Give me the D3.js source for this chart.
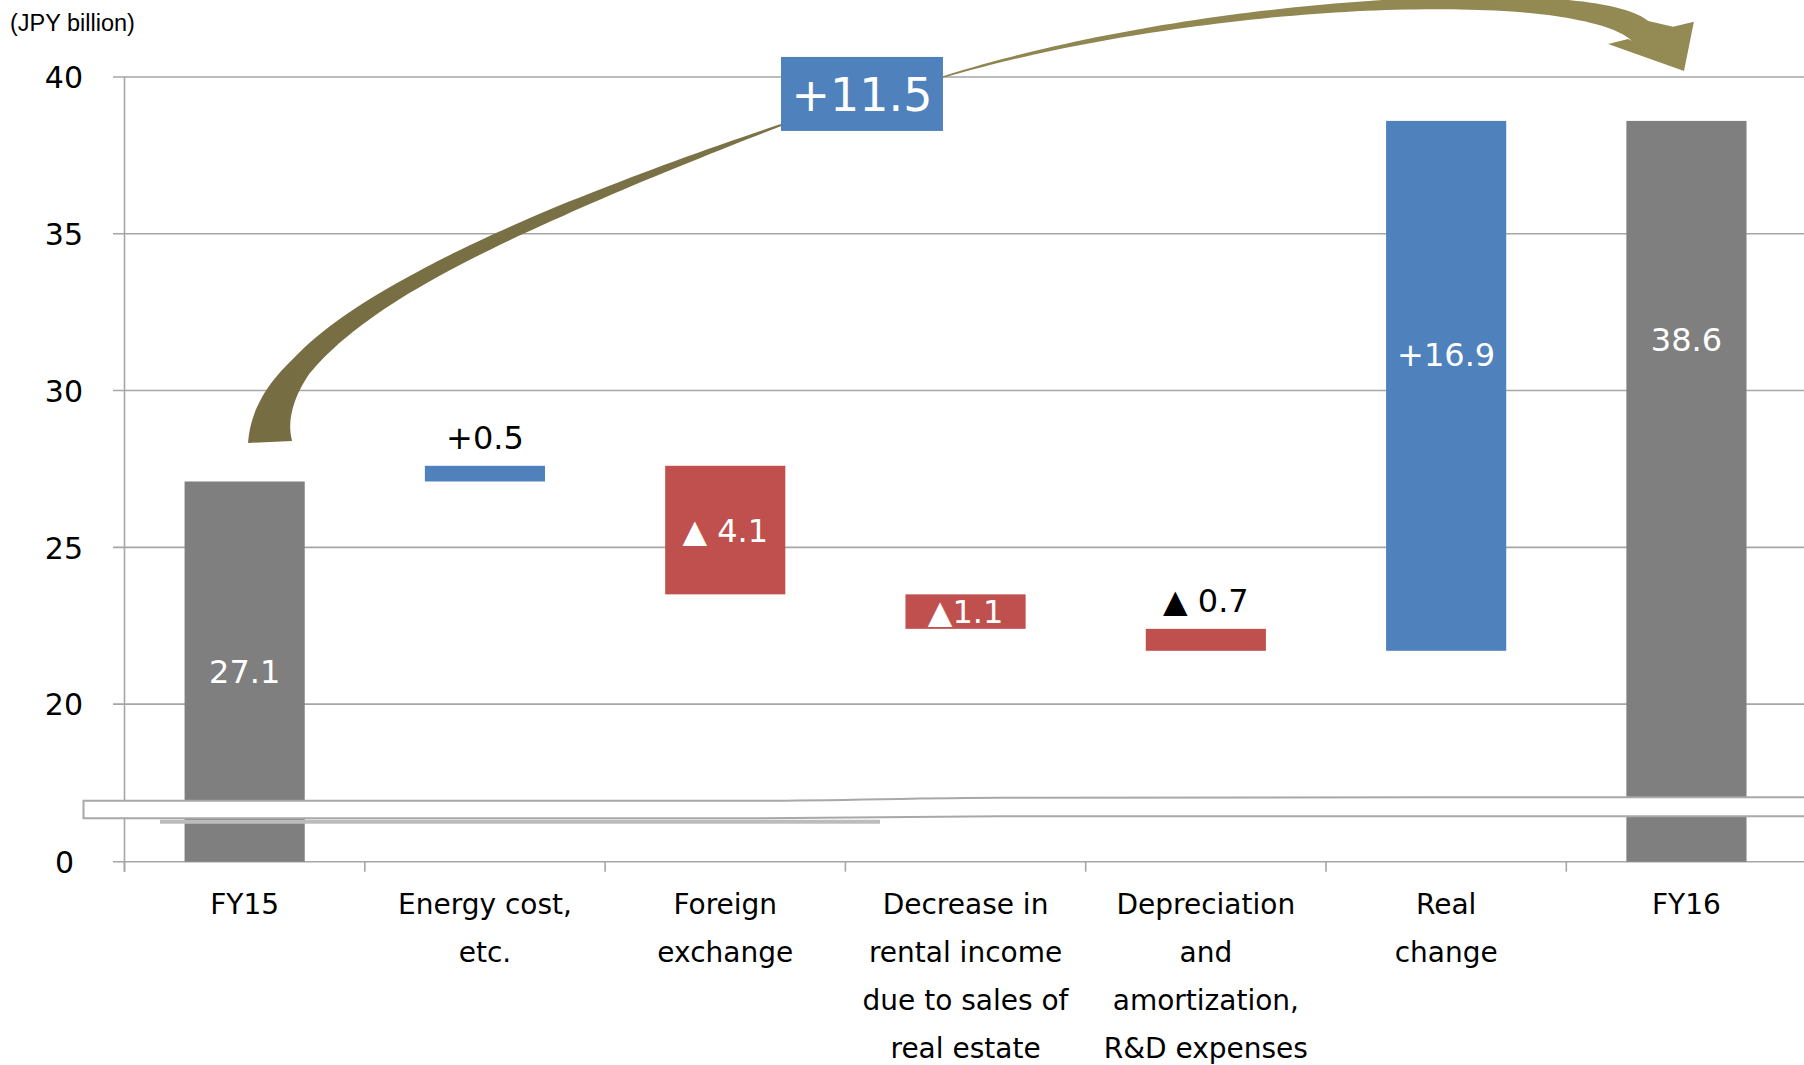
<!DOCTYPE html>
<html>
<head>
<meta charset="utf-8">
<script src="https://cdn.jsdelivr.net/npm/d3@7"></script>
<style>
  html, body { margin: 0; padding: 0; background: #ffffff; }
  svg { display: block; }
</style>
</head>
<body>
<svg id="chart" width="1804" height="1065"></svg>
<script>
// ---- data -------------------------------------------------------------
const categories = [
  "FY15",
  "Energy cost, etc.",
  "Foreign exchange",
  "Decrease in rental income due to sales of real estate",
  "Depreciation and amortization, R&D expenses",
  "Real change",
  "FY16"
];
const categoryLines = [
  ["FY15"],
  ["Energy cost,", "etc."],
  ["Foreign", "exchange"],
  ["Decrease in", "rental income", "due to sales of", "real estate"],
  ["Depreciation", "and", "amortization,", "R&D expenses"],
  ["Real", "change"],
  ["FY16"]
];
const stepKinds  = ["total", "delta", "delta", "delta", "delta", "delta", "total"];
const stepValues = [27.1, 0.5, -4.1, -1.1, -0.7, 16.9, 38.6];
const yTicks = [0, 20, 25, 30, 35, 40];
const unitLabel = "(JPY billion)";

// ---- layout -----------------------------------------------------------
const W = 1804, H = 1065;
const FONT = "'DejaVu Sans', Verdana, sans-serif";
const COLORS = { total: "#7f7f7f", up: "#4f81bd", down: "#c0504d", grid: "#a6a6a6" };

const svg = d3.select("#chart");

// the axis is broken between 0 and 20, so that span is compressed
const y = d3.scaleLinear().domain([0, 20, 40]).range([861.7, 704.1, 77]);
const x = d3.scaleBand().domain(categories)
  .range([124.5, 1806.6]).paddingInner(0.5).paddingOuter(0.25);
const xSlot = d3.scaleLinear().domain([0, categories.length]).range(x.range());
const axisX = x.range()[0];

// waterfall steps
let running = 0;
const steps = categories.map((c, i) => {
  const v = stepValues[i];
  let lo, hi;
  if (stepKinds[i] === "total") { lo = 0; hi = v; running = v; }
  else {
    const start = running;
    running = +(running + v).toFixed(4);
    lo = Math.min(start, running); hi = Math.max(start, running);
  }
  return { c, i, v, kind: stepKinds[i], lo, hi };
});
const fill = d => d.kind === "total" ? COLORS.total : (d.v >= 0 ? COLORS.up : COLORS.down);

// ---- gridlines & axes -------------------------------------------------
svg.append("g").selectAll("line").data(yTicks).join("line")
  .attr("x1", axisX - 11.5).attr("x2", W)
  .attr("y1", d => y(d)).attr("y2", d => y(d))
  .attr("stroke", COLORS.grid).attr("stroke-width", 1.6);

svg.append("line")
  .attr("x1", axisX).attr("x2", axisX)
  .attr("y1", y(40)).attr("y2", y(0) + 10)
  .attr("stroke", COLORS.grid).attr("stroke-width", 1.6);

svg.append("g").selectAll("line").data(d3.range(categories.length + 1)).join("line")
  .attr("x1", d => xSlot(d)).attr("x2", d => xSlot(d))
  .attr("y1", y(0)).attr("y2", y(0) + 10)
  .attr("stroke", COLORS.grid).attr("stroke-width", 1.6);

const yAxis = svg.append("g")
  .attr("transform", `translate(${axisX},0)`)
  .call(d3.axisLeft(y).tickValues(yTicks).tickSize(0).tickPadding(41.5).tickFormat(d3.format("d")));
yAxis.select(".domain").remove();
yAxis.selectAll("text")
  .attr("font-family", FONT).attr("font-size", 30).attr("fill", "#000")
  .attr("dy", "0.36em")
  .attr("dx", d => d === 0 ? -9 : 0);

svg.append("text")
  .attr("x", 10).attr("y", 31)
  .attr("font-family", "'Liberation Sans', Arial, sans-serif")
  .attr("font-size", 23.5).attr("fill", "#000")
  .text(unitLabel);

// ---- bars -------------------------------------------------------------
svg.append("g").selectAll("rect").data(steps).join("rect")
  .attr("x", d => x(d.c))
  .attr("width", x.bandwidth())
  .attr("y", d => y(d.hi))
  .attr("height", d => y(d.lo) - y(d.hi))
  .attr("fill", fill);

// ---- axis break band ---------------------------------------------------
const y0 = y(0);
const bandTop = [[axisX - 41, y0 - 61], [760, y0 - 61], [1000, y0 - 64], [W + 2, y0 - 64.5]];
const bandBot = [[W + 2, y0 - 45.5], [1000, y0 - 45.5], [760, y0 - 43.5], [axisX - 41, y0 - 43.5]];
const bandLine = d3.line().curve(d3.curveMonotoneX);
svg.append("path")
  .attr("d", d3.line()([[160, y0 - 40], [880, y0 - 40]]))
  .attr("stroke", "#bcbcbc").attr("stroke-width", 4).attr("fill", "none");
svg.append("path")
  .attr("d", bandLine(bandTop) + "L" + bandLine(bandBot).slice(1) + "Z")
  .attr("fill", "#ffffff")
  .attr("stroke", "#a8a8a8").attr("stroke-width", 2);

// ---- value labels -----------------------------------------------------
const fmt = d3.format(".1f");
const labelAt = ["mid", "above", "mid", "mid", "above", { top: 234 }, { top: 219 }];
const labelText = d => {
  if (d.kind === "total") return fmt(d.v);
  if (d.v >= 0) return "+" + fmt(d.v);
  const tight = labelAt[d.i] === "mid" && (y(d.lo) - y(d.hi)) < 40;
  return "\u25B2" + (tight ? "" : " ") + fmt(-d.v);
};
const labelY = d => {
  const p = labelAt[d.i];
  if (p === "mid") return (y(d.lo) + y(d.hi)) / 2;
  if (p === "above") return y(d.hi) - 28;
  return y(d.hi) + p.top;
};
svg.append("g").selectAll("text").data(steps).join("text")
  .attr("x", d => x(d.c) + x.bandwidth() / 2)
  .attr("y", labelY)
  .attr("dy", "0.36em")
  .attr("text-anchor", "middle")
  .attr("font-family", FONT).attr("font-size", 32)
  .attr("fill", d => labelAt[d.i] === "above" ? "#000" : "#fff")
  .text(labelText);

// ---- category labels --------------------------------------------------
const catG = svg.append("g").selectAll("text").data(steps).join("text")
  .attr("text-anchor", "middle")
  .attr("font-family", FONT).attr("font-size", 28).attr("fill", "#000");
catG.selectAll("tspan").data(d => categoryLines[d.i].map(t => ({ t, cx: x(d.c) + x.bandwidth() / 2 })))
  .join("tspan")
  .attr("x", d => d.cx)
  .attr("y", (d, j) => y0 + 52 + j * 48)
  .text(d => d.t);

// ---- curved arrow from FY15 to FY16 -----------------------------------
// control points in (category slot, axis value) space
const P = ([s, v]) => [xSlot(s), y(v)];
function bez(p, t) {
  const u = 1 - t;
  return [
    u*u*u*p[0][0] + 3*u*u*t*p[1][0] + 3*u*t*t*p[2][0] + t*t*t*p[3][0],
    u*u*u*p[0][1] + 3*u*u*t*p[1][1] + 3*u*t*t*p[2][1] + t*t*t*p[3][1]
  ];
}
function bezD(p, t) {
  const u = 1 - t;
  return [
    3*u*u*(p[1][0]-p[0][0]) + 6*u*t*(p[2][0]-p[1][0]) + 3*t*t*(p[3][0]-p[2][0]),
    3*u*u*(p[1][1]-p[0][1]) + 6*u*t*(p[2][1]-p[1][1]) + 3*t*t*(p[3][1]-p[2][1])
  ];
}
function taper(ctrl, width, n = 80) {
  const a = [], b = [];
  for (let k = 0; k <= n; k++) {
    const t = k / n, c = bez(ctrl, t), d = bezD(ctrl, t);
    const len = Math.hypot(d[0], d[1]);
    const nx = -d[1] / len, ny = d[0] / len, w = width(t);
    a.push([c[0] + nx * w, c[1] + ny * w]);
    b.push([c[0] - nx * w, c[1] - ny * w]);
  }
  return { a, b };
}

const leftCtrl = [[0.6055, 28.36], [0.585, 31.61], [1.3546, 34.64], [2.732, 38.47]].map(P);
const rightCtrl = [[3.406, 40.0], [4.476, 42.5], [6.057, 43.05], [6.307, 41.47]].map(P);
const head = [[6.444, 41.60], [6.531, 41.76], [6.490, 40.19], [6.174, 41.05], [6.257, 41.21]].map(P);

const grad = svg.append("defs").append("linearGradient")
  .attr("id", "arrowFill").attr("gradientUnits", "userSpaceOnUse")
  .attr("x1", 250).attr("y1", 0).attr("x2", 1700).attr("y2", 0);
grad.selectAll("stop").data([
  [0, "#766d42"], [0.37, "#7b7347"], [0.47, "#8e8550"], [1, "#948a54"]
]).join("stop").attr("offset", d => d[0]).attr("stop-color", d => d[1]);

const leftShaft = taper(leftCtrl, d3.scaleLinear().domain([0, 0.25, 0.5, 0.75, 0.9, 1]).range([22, 11, 7.5, 5.5, 3.2, 1]));
const rightShaft = taper(rightCtrl, d3.scaleLinear().domain([0, 0.25, 0.5, 0.75, 1]).range([0.8, 2.8, 4.8, 8, 13]));

const poly = pts => "M" + pts.map(p => p[0].toFixed(1) + "," + p[1].toFixed(1)).join("L") + "Z";
svg.append("path")
  .attr("d", poly(leftShaft.a.concat(leftShaft.b.slice().reverse())))
  .attr("fill", "url(#arrowFill)");
svg.append("path")
  .attr("d", poly(rightShaft.b.concat(head, rightShaft.a.slice().reverse())))
  .attr("fill", "url(#arrowFill)");

// ---- net change box ---------------------------------------------------
const net = stepValues[stepValues.length - 1] - stepValues[0];
const bx0 = xSlot(2.732), bx1 = xSlot(3.406), by0 = y(40.64), by1 = y(38.28);
svg.append("rect")
  .attr("x", bx0).attr("y", by0)
  .attr("width", bx1 - bx0).attr("height", by1 - by0)
  .attr("fill", COLORS.up);
svg.append("text")
  .attr("x", (bx0 + bx1) / 2).attr("y", (by0 + by1) / 2 + 1)
  .attr("dy", "0.36em").attr("text-anchor", "middle")
  .attr("font-family", FONT).attr("font-size", 46).attr("fill", "#fff")
  .text("+" + fmt(net));
</script>
</body>
</html>
